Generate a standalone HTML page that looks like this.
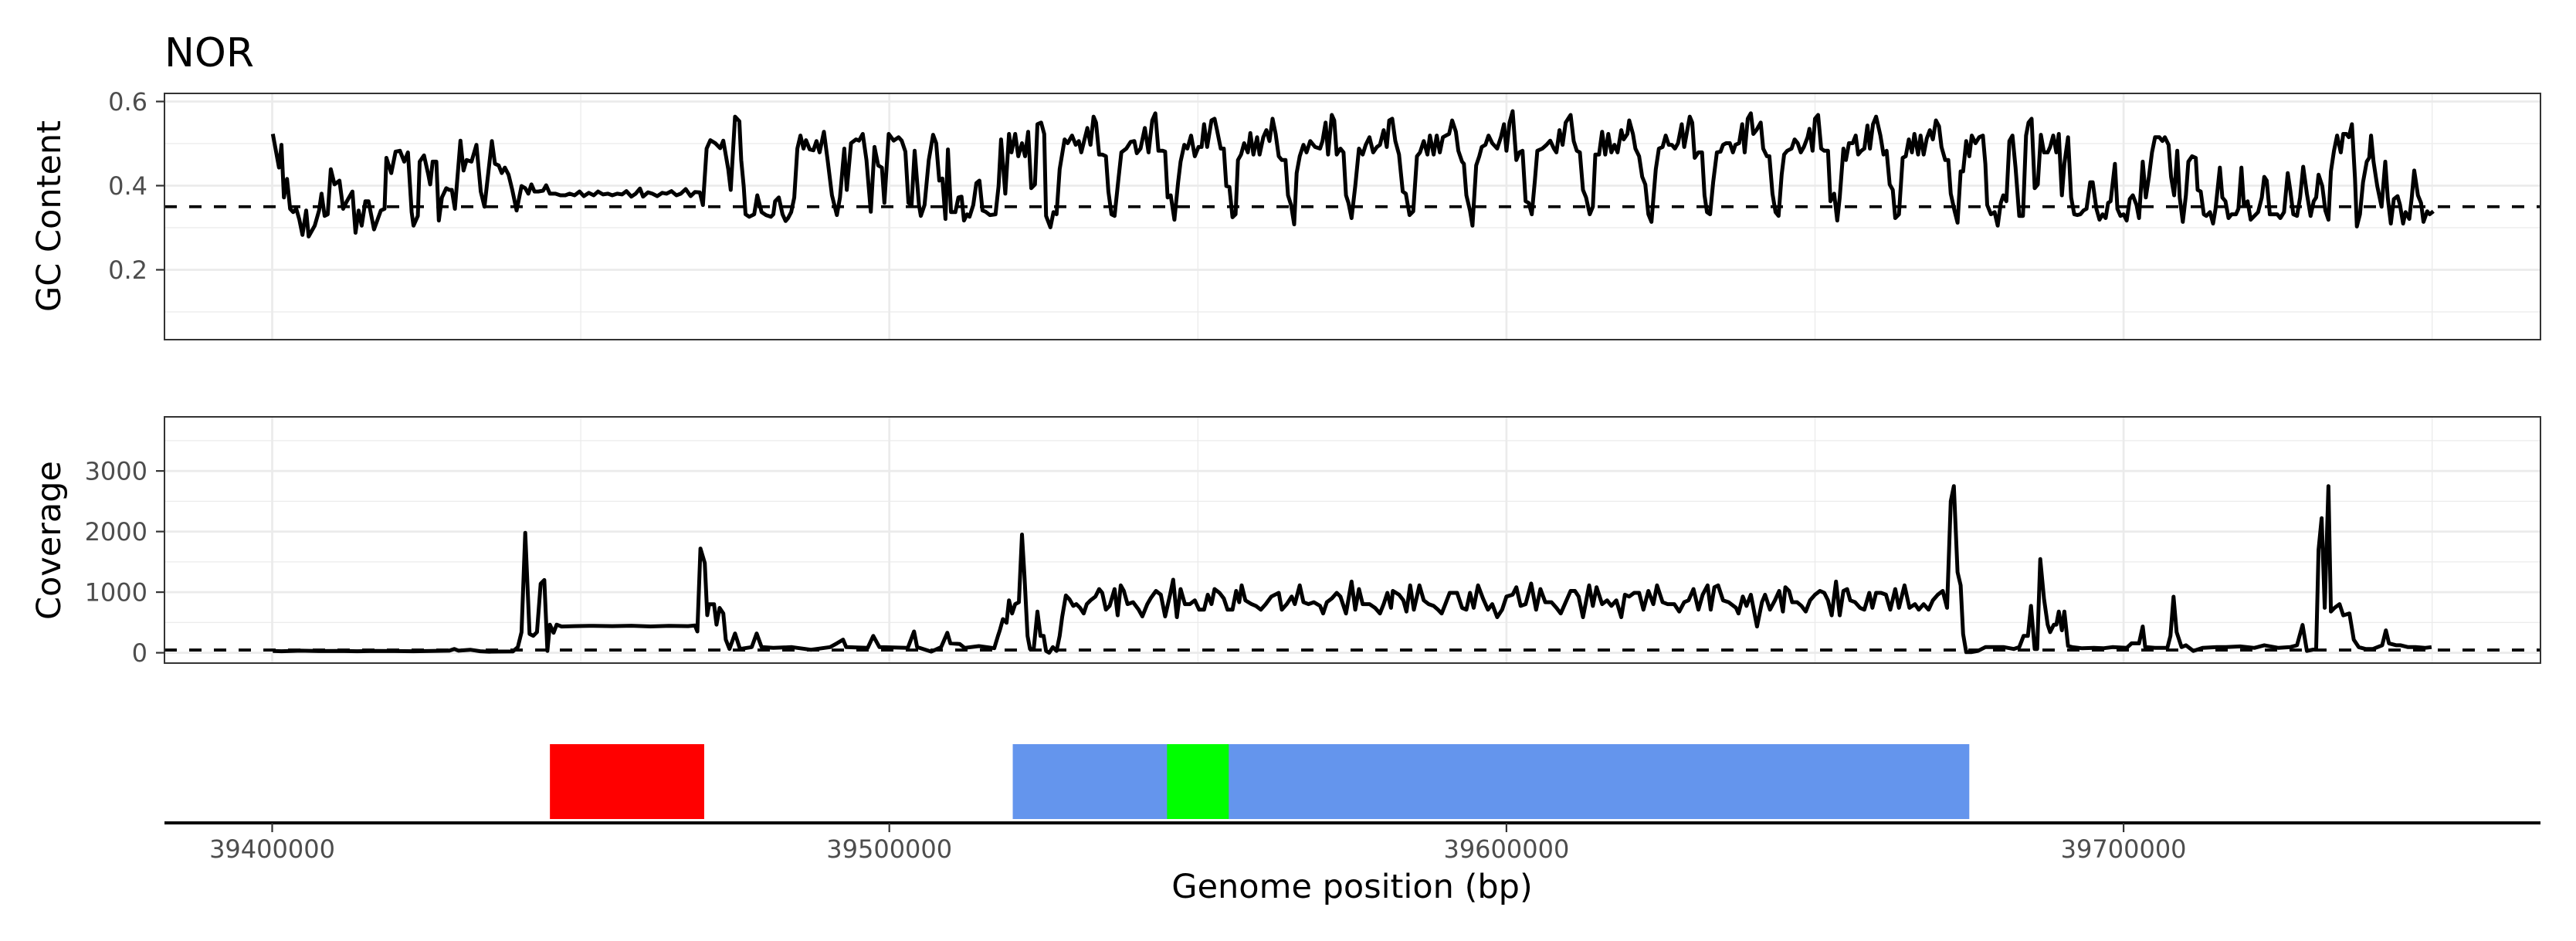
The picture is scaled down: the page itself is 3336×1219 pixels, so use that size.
<!DOCTYPE html>
<html><head><meta charset="utf-8"><title>NOR</title>
<style>html,body{margin:0;padding:0;background:#fff}svg{display:block}text{font-family:"DejaVu Sans","Liberation Sans",sans-serif}</style>
</head><body>
<svg id="chart" width="3336" height="1219" viewBox="0 0 3336 1219" xmlns="http://www.w3.org/2000/svg">
<rect width="3336" height="1219" fill="#fff"/>
<g id="gc-panel"></g>
<g id="cov-panel"></g>
<g id="gene-track"></g>
<text x="213" y="86" font-size="52" fill="#000">NOR</text>
<text transform="translate(78,280) rotate(-90)" text-anchor="middle" font-size="43" fill="#000">GC Content</text>
<text transform="translate(78,700) rotate(-90)" text-anchor="middle" font-size="43" fill="#000">Coverage</text>
<text x="1751" y="1163" text-anchor="middle" font-size="43" fill="#000">Genome position (bp)</text>
</svg>
<script>
// genome positions in kb offset from 39400000
const xTickValues = [39400000, 39500000, 39600000, 39700000];
const xTickLabels = ["39400000", "39500000", "39600000", "39700000"];
const xMinorValues = [39450000, 39550000, 39650000, 39750000];
const gcTicks = [0.2, 0.4, 0.6];
const gcTickLabels = ["0.2", "0.4", "0.6"];
const gcMinor = [0.1, 0.3, 0.5];
const covTicks = [0, 1000, 2000, 3000];
const covTickLabels = ["0", "1000", "2000", "3000"];
const covMinor = [500, 1500, 2500, 3500];
const gcThreshold = 0.35;
const covThreshold = 45;
const geneStarts = [39445000, 39520000, 39545000];
const geneEnds = [39470000, 39675000, 39555000];
const geneColors = ["#ff0000", "#6495ed", "#00ff00"];
const geneNames = ["gene-red", "gene-blue", "gene-green"];

const gcPos = [0.1,1.1,1.5,1.9,2.4,2.9,3.4,3.9,4.4,4.9,5.5,5.9,6.9,7.6,8.0,8.5,9.0,9.5,10.1,10.9,11.5,12.1,13.0,13.5,14.0,14.5,15.1,15.6,16.5,17.6,18.2,18.5,19.3,20.0,20.7,21.4,22.0,22.6,22.9,23.6,23.9,24.6,25.3,25.6,26.0,26.6,27.0,27.5,28.2,28.7,29.1,29.6,30.5,31.0,31.5,32.3,33.1,33.8,34.4,35.6,36.1,36.7,37.2,37.7,38.3,38.9,39.6,40.4,41.0,41.5,42.0,42.5,43.1,43.9,44.4,45.0,45.9,46.7,47.5,48.2,49.0,49.8,50.5,51.3,52.1,52.8,53.6,54.4,55.1,55.9,56.7,57.4,58.2,58.9,59.6,60.1,60.9,61.6,62.4,63.2,63.9,64.7,65.5,66.2,67.0,67.8,68.5,69.3,69.8,70.4,71.0,71.8,72.6,73.1,73.9,74.3,75.0,75.7,76.0,76.4,76.7,77.3,78.1,78.6,79.3,80.0,80.8,81.2,81.5,82.1,82.7,83.2,83.6,84.1,84.6,85.1,85.6,86.1,86.5,87.1,87.7,88.2,88.7,89.4,90.0,90.7,91.5,92.0,92.7,93.1,93.8,94.6,95.1,95.7,96.3,97.0,97.6,98.2,98.8,99.2,99.9,100.7,101.5,102.0,102.6,103.1,103.6,104.1,104.8,105.1,105.7,106.4,107.1,107.6,108.1,108.6,109.1,109.5,110.0,110.7,111.2,111.7,112.1,112.6,113.0,113.6,114.1,114.6,115.1,115.6,116.3,117.2,117.7,
118.1,118.8,119.4,119.8,120.4,120.9,121.5,122.0,122.5,123.0,123.6,124.0,124.6,125.1,125.4,126.1,126.6,127.1,127.6,128.4,128.9,129.6,130.2,130.7,131.1,132.1,132.6,133.1,133.5,134.0,134.5,135.1,135.5,136.0,136.5,137.1,137.6,138.4,139.1,139.7,140.1,140.7,141.4,142.0,142.6,143.1,143.6,144.3,144.7,145.1,145.6,146.2,146.8,147.2,147.8,148.3,148.9,149.5,150.1,150.6,151.0,151.5,152.2,152.7,153.1,153.7,154.2,154.6,155.1,155.6,156.1,156.5,157.0,157.5,158.1,158.5,159.0,159.6,160.0,160.6,161.1,161.6,162.1,162.6,163.1,163.6,164.2,164.6,165.1,165.6,166.0,166.5,167.1,167.6,168.2,169.0,169.8,170.2,170.7,171.1,171.7,172.1,172.5,173.1,173.6,174.0,174.4,174.9,175.5,176.1,176.7,177.2,177.8,178.4,179.0,179.5,180.1,180.6,181.0,181.5,182.0,182.6,183.2,183.7,184.3,184.9,185.5,186.0,186.6,187.2,187.6,188.2,188.7,189.2,189.7,190.2,190.7,191.2,191.8,192.2,192.8,193.1,193.5,194.1,194.5,195.1,195.6,196.0,196.6,197.1,197.7,198.5,199.1,199.6,200.0,200.5,201.0,201.6,202.1,202.6,203.1,203.6,204.1,204.6,205.0,205.8,206.5,207.1,207.7,208.1,208.6,209.1,209.6,210.4,210.9,211.4,211.9,212.4,212.9,213.5,214.0,214.4,215.0,215.5,216.0,216.5,217.0,217.5,218.0,218.6,219.0,219.6,219.9,220.5,220.9,221.5,222.0,222.5,223.0,223.5,224.2,224.7,225.3,225.8,226.3,226.8,227.3,227.8,228.4,228.8,229.3,229.7,230.1,230.5,231.1,231.7,232.1,232.5,233.0,233.5,234.1,234.7,235.1,235.6,236.2,236.7,
237.1,237.7,238.2,238.6,239.1,239.6,240.0,240.5,241.2,241.6,242.2,242.6,243.1,243.6,244.1,244.6,245.0,245.5,246.2,246.7,247.2,247.7,248.2,248.8,249.1,249.6,250.0,250.5,251.0,251.5,252.1,252.5,253.1,253.6,254.0,254.6,255.0,255.5,256.1,256.6,257.0,257.5,258.0,258.5,258.9,259.4,259.9,260.6,261.1,261.6,262.1,262.6,263.0,263.6,264.2,264.7,265.2,265.7,266.1,266.7,267.1,267.6,268.1,268.6,269.1,269.6,270.1,270.5,271.1,271.6,272.0,272.6,273.1,273.6,274.0,274.5,275.0,275.4,276.0,276.6,277.2,277.6,277.9,278.5,279.1,279.6,280.1,280.5,281.0,281.5,282.0,282.5,283.1,283.7,284.2,284.6,285.1,285.6,286.1,286.6,287.1,287.7,288.1,288.6,289.1,289.5,290.0,290.4,291.0,291.5,292.0,292.5,293.0,293.5,294.0,294.6,295.0,295.6,296.1,296.6,297.1,297.5,297.9,298.6,299.0,299.5,300.0,300.5,301.0,301.5,302.1,302.5,303.1,303.6,304.1,304.6,305.1,305.8,306.3,306.7,307.3,307.7,308.2,308.7,309.1,309.6,310.1,310.5,311.1,311.7,312.0,312.5,313.0,313.4,314.0,314.5,314.9,315.6,316.0,316.5,317.0,317.5,318.2,318.6,319.1,319.5,320.1,320.6,321.2,321.8,322.4,322.8,323.2,323.7,324.3,324.9,325.4,326.0,326.6,327.0,327.5,328.1,328.6,329.1,329.7,330.3,330.8,331.2,331.6,332.2,332.7,333.2,333.6,334.1,334.6,335.2,335.6,336.1,336.5,337.0,337.5,337.8,338.3,338.8,339.4,339.8,340.1,340.5,341.1,341.8,342.4,342.8,343.3,343.8,344.4,344.8,345.3,345.7,346.3,346.7,347.1,347.7,348.2,348.6,349.2,349.6,350.2];
const gcVal = [.523,.443,.497,.372,.416,.345,.337,.345,.319,.283,.341,.279,.305,.341,.381,.328,.332,.439,.403,.412,.345,.363,.386,.288,.341,.305,.363,.363,.296,.341,.345,.466,.430,.481,.483,.457,.479,.337,.305,.328,.457,.472,.426,.403,.457,.457,.317,.372,.394,.390,.390,.345,.507,.436,.461,.457,.497,.386,.350,.506,.452,.448,.430,.443,.426,.390,.341,.399,.394,.381,.403,.386,.386,.388,.401,.381,.381,.377,.377,.381,.377,.386,.375,.383,.377,.386,.379,.381,.377,.381,.379,.387,.374,.381,.393,.374,.384,.381,.375,.383,.381,.387,.377,.381,.392,.375,.385,.384,.354,.488,.508,.501,.489,.507,.439,.390,.564,.553,.461,.399,.332,.326,.332,.377,.337,.330,.326,.332,.363,.372,.332,.316,.323,.337,.372,.488,.519,.488,.508,.486,.484,.506,.479,.528,.461,.377,.330,.372,.488,.390,.501,.510,.507,.523,.461,.338,.492,.448,.443,.359,.523,.507,.515,.507,.481,.359,.354,.483,.354,.328,.354,.461,.521,.501,.412,.417,.321,.486,.337,.337,.372,.374,.317,.332,.326,.354,.406,.412,.341,.338,.330,.332,.399,
.510,.381,.523,.479,.523,.470,.501,.470,.528,.394,.403,.546,.550,.523,.328,.301,.337,.332,.439,.510,.501,.519,.497,.506,.479,.537,.497,.564,.550,.474,.474,.470,.386,.332,.328,.412,.479,.488,.504,.506,.477,.488,.537,.479,.555,.572,.483,.483,.481,.372,.377,.319,.408,.457,.497,.488,.519,.470,.492,.492,.546,.492,.555,.559,.532,.488,.488,.399,.397,.325,.332,.461,.474,.501,.479,.525,.474,.515,.474,.515,.532,.506,.559,.523,.470,.461,.461,.377,.354,.308,.430,.470,.497,.479,.506,.492,.488,.506,.550,.474,.568,.555,.474,.488,.479,.377,.359,.323,.399,.488,.474,.497,.515,.479,.492,.497,.532,.492,.555,.559,.506,.474,.386,.381,.330,.339,.470,.479,.506,.474,.519,.474,.519,.479,.515,.519,.523,.555,.528,.483,.457,.452,.377,.341,.305,.448,.470,.492,.497,.519,.501,.488,.515,.546,.483,.550,.577,.461,.479,.483,.363,.359,.332,.412,.483,.488,.497,.507,.488,.479,.532,.497,.550,.568,.506,.483,.479,.390,.372,.332,.350,.474,.474,.528,.474,.523,.479,.497,.479,.532,.510,.523,.555,.523,.488,.470,.421,.403,.332,.314,.439,.488,.492,.519,.497,.497,.488,.501,.546,.492,.532,.564,.550,.466,.479,.479,.377,.337,.332,.408,.479,.481,.497,.501,.501,.479,
.497,.501,.546,.479,.559,.572,.523,.532,.550,.488,.470,.470,.381,.337,.328,.426,.474,.483,.488,.510,.501,.479,.492,.515,.535,.483,.559,.568,.488,.483,.483,.363,.381,.317,.372,.488,.461,.501,.501,.519,.474,.483,.488,.543,.488,.546,.564,.519,.474,.483,.403,.390,.323,.332,.466,.470,.510,.479,.523,.474,.519,.474,.512,.532,.510,.555,.541,.492,.461,.461,.381,.341,.312,.434,.434,.506,.470,.519,.501,.515,.519,.452,.354,.332,.337,.305,.359,.377,.363,.506,.519,.443,.328,.328,.519,.550,.559,.394,.403,.521,.479,.479,.492,.519,.479,.523,.377,.452,.515,.372,.332,.330,.332,.341,.345,.408,.408,.345,.319,.332,.323,.359,.363,.452,.345,.328,.332,.317,.368,.377,.354,.323,.457,.372,.421,.479,.515,.515,.506,.515,.497,.421,.377,.483,.372,.314,.377,.457,.470,.466,.390,.386,.332,.328,.337,.310,.345,.443,.372,.363,.323,.332,.332,.345,.443,.354,.363,.319,.328,.337,.372,.421,.412,.332,.332,.332,.323,.337,.430,.390,.332,.328,.372,.445,.381,.328,.363,.372,.426,.399,.341,.319,.434,.483,.519,.479,.523,.523,.515,.546,.417,.303,.332,.408,.457,.466,.519,.457,.399,.350,.457,.372,.310,.368,.375,.354,.310,.337,.321,.372,.436,.377,.359,.314,.339,.332,.339];

const covPos = [0.1,1.5,4.6,7.6,10.7,13.8,16.8,19.9,22.9,26.0,28.7,29.5,30.2,32.1,33.7,35.2,36.7,39.0,39.8,40.4,41.0,41.7,42.3,42.9,43.5,44.1,44.6,45.0,45.6,46.1,46.9,49.0,52.1,55.1,58.2,61.3,64.3,67.4,68.5,68.9,69.4,70.1,70.5,70.8,71.6,72.0,72.5,73.1,73.5,74.1,75.0,75.8,77.7,78.5,79.3,81.2,84.2,87.3,90.4,91.5,92.5,93.0,96.5,97.4,98.4,103.0,104.0,104.5,106.8,108.4,109.4,109.9,111.4,112.2,114.5,117.0,117.6,
117.9,118.4,119.0,119.4,119.9,120.4,121.0,121.5,121.9,122.4,122.8,123.4,124.0,124.5,125.0,125.4,125.9,126.5,127.1,127.6,128.0,128.6,129.2,129.8,130.3,130.9,131.5,132.0,132.6,133.4,134.0,134.5,135.1,135.7,136.5,137.0,137.5,138.0,138.6,139.5,140.4,141.0,141.8,142.4,143.2,144.0,144.7,145.5,146.0,146.6,147.2,147.9,148.7,149.5,150.2,151.0,151.6,152.2,152.7,153.5,154.2,154.8,155.6,156.2,156.7,157.1,157.7,158.7,159.4,160.2,161.0,161.9,163.1,163.6,164.4,165.2,165.7,166.5,167.1,167.9,168.8,169.8,170.3,170.9,171.7,172.5,173.1,174.0,174.9,175.5,176.1,176.7,177.8,178.7,179.5,180.1,180.7,181.3,181.6,182.6,183.3,183.8,184.4,185.0,185.9,186.6,187.4,188.2,188.9,189.5,190.1,190.8,192.0,192.8,193.5,194.1,194.7,195.4,196.2,197.0,197.7,198.5,199.3,200.0,201.0,201.6,202.3,203.1,204.0,204.8,205.5,206.3,207.3,208.1,208.8,209.6,210.4,211.1,211.7,212.4,213.4,214.0,214.6,215.5,216.3,217.0,217.8,218.6,219.2,219.9,220.7,221.5,222.2,223.0,223.8,224.4,225.3,226.1,227.2,228.0,228.8,229.5,230.3,231.1,231.8,232.6,233.1,233.7,234.3,235.1,236.0,237.2,
237.6,238.3,238.9,239.6,240.6,241.4,241.9,242.7,243.5,244.2,244.8,245.2,245.8,246.3,247.1,247.8,248.5,249.2,250.0,250.8,251.5,252.1,252.7,253.4,254.0,254.6,255.2,255.7,256.5,257.3,258.0,258.8,259.3,259.9,260.7,261.5,262.2,263.0,263.6,264.5,265.3,266.2,266.8,267.6,268.4,269.1,269.9,270.7,271.4,272.0,272.5,273.1,273.6,274.0,274.5,275.3,276.4,277.6,279.1,280.6,282.2,283.1,283.8,284.5,285.0,285.6,286.0,286.5,287.1,287.7,288.1,288.7,289.1,289.5,290.0,290.4,291.0,291.7,293.3,295.2,296.7,298.2,300.5,301.3,302.5,303.1,303.5,305.1,307.1,307.6,308.1,308.6,309.4,310.1,311.3,312.8,315.1,316.6,318.9,321.2,322.8,325.1,327.0,328.1,329.0,329.7,331.2,331.6,332.1,332.6,333.2,333.6,334.2,335.0,335.6,336.6,337.3,338.1,339.2,340.4,341.9,342.5,343.0,344.2,344.9,346.1,347.3,348.8,349.9];
const covVal = [30,25,35,28,30,25,30,28,25,30,35,62,35,50,25,18,20,22,93,340,1980,310,280,340,1140,1200,30,464,330,464,433,440,445,440,446,435,445,440,450,352,1720,1480,620,800,800,464,740,650,216,62,318,62,93,318,93,80,93,50,93,155,216,93,80,278,93,80,352,93,19,93,330,155,145,80,110,75,278,
371,556,494,865,649,803,834,1950,1267,278,62,62,680,278,278,31,0,93,31,278,587,945,880,773,803,742,649,803,865,927,1051,989,711,773,1051,618,1112,1020,803,834,711,600,803,908,1020,958,600,958,1205,587,1051,803,803,865,711,711,958,803,1051,989,896,711,711,1020,834,1112,865,803,773,711,803,927,989,711,803,927,803,1112,834,803,834,773,649,834,896,989,927,649,1175,711,1051,803,803,742,649,803,989,742,1020,958,865,680,1112,711,1112,865,803,773,711,649,803,989,989,742,711,989,742,1112,896,711,803,587,711,927,958,1082,773,803,1143,711,1051,834,834,742,649,834,1020,1020,927,587,1112,773,1082,803,865,773,865,587,958,927,989,989,711,1020,803,1112,834,803,803,680,834,865,1051,711,958,1112,711,1082,1112,865,834,742,
649,927,773,958,433,834,958,711,865,1020,680,1082,1020,834,834,773,680,865,958,1020,989,865,618,1175,618,1020,1051,865,834,742,711,989,742,989,989,958,711,1051,742,1112,742,803,711,803,711,865,958,1020,742,2500,2750,1330,1112,310,10,10,31,93,93,93,62,93,278,278,773,62,62,1545,896,464,340,464,464,680,371,680,111,93,74,80,74,93,80,155,155,433,93,80,80,278,925,340,93,124,31,80,93,93,105,80,124,80,93,124,460,31,62,1700,2220,742,2750,680,742,803,618,649,216,93,62,62,124,370,155,124,124,93,93,80,93];

const NS = "http://www.w3.org/2000/svg";
const PL = 213, PR = 3290;
function xScale(bp){ return 352.5 + (bp - 39400000) * 0.007992; }
function xKb(kb){ return xScale(39400000 + kb * 1000); }
function gcY(v){ return 240.5 - (v - 0.4) * 545; }
function covY(v){ return 845.6 - v * 0.0785; }
function mk(tag, attrs, parent){ const e = document.createElementNS(NS, tag); for (const k in attrs) e.setAttribute(k, attrs[k]); parent.appendChild(e); return e; }

function panel(g, top, bottom, yFn, ticks, labels, minor, thr, pos, vals, prefix){
  minor.forEach(v => { const y = yFn(v); if (y > top && y < bottom) { const l = mk('line', {x1:PL, x2:PR, y1:y, y2:y, stroke:'#ebebeb', 'stroke-width':1.3}, g);
    
     } });
  xMinorValues.forEach(v => { const x = xScale(v); if (x > PL && x < PR) { const l = mk('line', {x1:x, x2:x, y1:top, y2:bottom, stroke:'#ebebeb', 'stroke-width':1.3}, g);
    
     } });
  ticks.forEach((v, i) => { const y = yFn(v);
    const l = mk('line', {x1:PL, x2:PR, y1:y, y2:y, stroke:'#ebebeb', 'stroke-width':2.7}, g);
    
    
    const t = mk('line', {x1:202, x2:PL, y1:y, y2:y, stroke:'#333', 'stroke-width':2.2}, g);
    
    
    const tx = mk('text', {x:191, y:y + 11.5, 'text-anchor':'end', 'font-size':32, fill:'#4d4d4d'}, g);
    tx.textContent = labels[i];
    
     });
  xTickValues.forEach(v => { const x = xScale(v);
    const l = mk('line', {x1:x, x2:x, y1:top, y2:bottom, stroke:'#ebebeb', 'stroke-width':2.7}, g);
    
     });
  const ty = yFn(thr);
  const d = mk('line', {x1:PL, x2:PR, y1:ty, y2:ty, stroke:'#000', 'stroke-width':3.8, 'stroke-dasharray':'16 16'}, g);
  
  
  let p = '';
  pos.forEach((kb, i) => { p += (i ? 'L' : 'M') + xKb(kb).toFixed(1) + ',' + yFn(vals[i]).toFixed(1); });
  const path = mk('path', {d:p, fill:'none', stroke:'#000', 'stroke-width':5, 'stroke-linejoin':'round'}, g);
  
  
  const b = mk('rect', {x:PL, y:top, width:PR - PL, height:bottom - top, fill:'none', stroke:'#333', 'stroke-width':2}, g);
  
  
}
panel(document.getElementById('gc-panel'), 121, 440, gcY, gcTicks, gcTickLabels, gcMinor, gcThreshold, gcPos, gcVal, 'gc');
panel(document.getElementById('cov-panel'), 540, 859, covY, covTicks, covTickLabels, covMinor, covThreshold, covPos, covVal, 'coverage');

const gt = document.getElementById('gene-track');
geneStarts.forEach((s, i) => {
  const x1 = xScale(s), x2 = xScale(geneEnds[i]);
  const r = mk('rect', {x:x1, y:964, width:x2 - x1, height:97, fill:geneColors[i]}, gt);
  
  
});
const ax = mk('line', {x1:PL, x2:PR, y1:1066, y2:1066, stroke:'#000', 'stroke-width':4}, gt);


xTickValues.forEach((v, i) => {
  const x = xScale(v);
  const t = mk('line', {x1:x, x2:x, y1:1066, y2:1078, stroke:'#333', 'stroke-width':2.2}, gt);
  
  
  const tx = mk('text', {x:x, y:1111, 'text-anchor':'middle', 'font-size':32, fill:'#4d4d4d'}, gt);
  tx.textContent = xTickLabels[i];
  
  
});
</script>
</body></html>
